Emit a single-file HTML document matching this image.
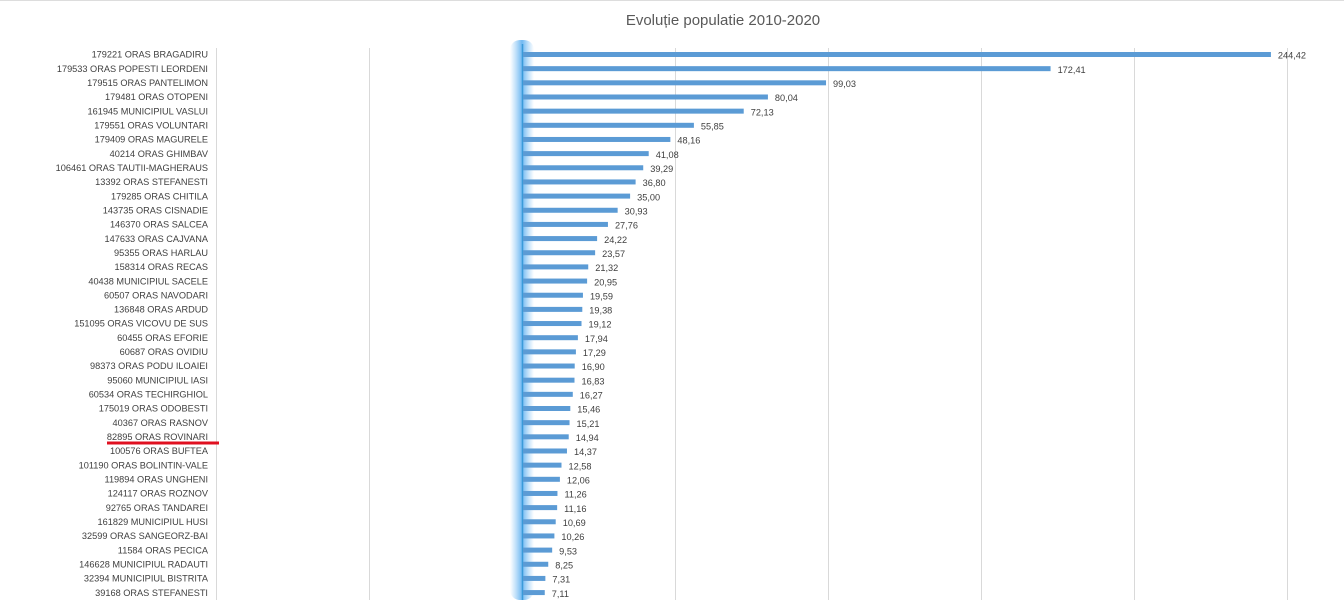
<!DOCTYPE html><html><head><meta charset="utf-8"><style>body{margin:0;background:#fff}svg{display:block}text{font-family:"Liberation Sans",sans-serif}</style></head><body>
<svg width="1344" height="600" xmlns="http://www.w3.org/2000/svg">
<defs><linearGradient id="g" x1="0" x2="1"><stop offset="0" stop-color="#7cc0f5" stop-opacity="0"/><stop offset="0.5" stop-color="#5fb0f0" stop-opacity="0.9"/><stop offset="1" stop-color="#7cc0f5" stop-opacity="0"/></linearGradient></defs>
<line x1="0" y1="0.5" x2="1344" y2="0.5" stroke="#ddd"/>
<text x="723" y="25" text-anchor="middle" font-size="15" fill="#595959">Evoluție populatie 2010-2020</text>
<g stroke="#d9d9d9" stroke-width="1">
<line x1="216.5" y1="48" x2="216.5" y2="600"/><line x1="369.5" y1="48" x2="369.5" y2="600"/><line x1="675.5" y1="48" x2="675.5" y2="600"/><line x1="828.5" y1="48" x2="828.5" y2="600"/><line x1="981.5" y1="48" x2="981.5" y2="600"/><line x1="1134.5" y1="48" x2="1134.5" y2="600"/><line x1="1287.5" y1="48" x2="1287.5" y2="600"/></g>
<rect x="510" y="40" width="24" height="560" rx="10" fill="url(#g)"/>
<line x1="522.5" y1="44" x2="522.5" y2="600" stroke="#3a9ad9" stroke-width="1.5"/>
<g id="rows" font-size="9.2" fill="#404040"></g>
<line x1="107" y1="443" x2="219" y2="443" stroke="#e01020" stroke-width="3"/>
</svg>
<script>
var d=[["179221 ORAS BRAGADIRU",244.42],["179533 ORAS POPESTI LEORDENI",172.41],["179515 ORAS PANTELIMON",99.03],["179481 ORAS OTOPENI",80.04],["161945 MUNICIPIUL VASLUI",72.13],["179551 ORAS VOLUNTARI",55.85],["179409 ORAS MAGURELE",48.16],["40214 ORAS GHIMBAV",41.08],["106461 ORAS TAUTII-MAGHERAUS",39.29],["13392 ORAS STEFANESTI",36.80],["179285 ORAS CHITILA",35.00],["143735 ORAS CISNADIE",30.93],["146370 ORAS SALCEA",27.76],["147633 ORAS CAJVANA",24.22],["95355 ORAS HARLAU",23.57],["158314 ORAS RECAS",21.32],["40438 MUNICIPIUL SACELE",20.95],["60507 ORAS NAVODARI",19.59],["136848 ORAS ARDUD",19.38],["151095 ORAS VICOVU DE SUS",19.12],["60455 ORAS EFORIE",17.94],["60687 ORAS OVIDIU",17.29],["98373 ORAS PODU ILOAIEI",16.90],["95060 MUNICIPIUL IASI",16.83],["60534 ORAS TECHIRGHIOL",16.27],["175019 ORAS ODOBESTI",15.46],["40367 ORAS RASNOV",15.21],["82895 ORAS ROVINARI",14.94],["100576 ORAS BUFTEA",14.37],["101190 ORAS BOLINTIN-VALE",12.58],["119894 ORAS UNGHENI",12.06],["124117 ORAS ROZNOV",11.26],["92765 ORAS TANDAREI",11.16],["161829 MUNICIPIUL HUSI",10.69],["32599 ORAS SANGEORZ-BAI",10.26],["11584 ORAS PECICA",9.53],["146628 MUNICIPIUL RADAUTI",8.25],["32394 MUNICIPIUL BISTRITA",7.31],["39168 ORAS STEFANESTI",7.11]];
var g=document.getElementById('rows'),s='';
d.forEach(function(r,i){var y=54.5+i*14.16,w=r[1]*3.06;
s+='<text x="208" y="'+(y+3.2)+'" text-anchor="end">'+r[0]+'</text>';
s+='<rect x="523" y="'+(y-2.5)+'" width="'+w+'" height="5" fill="#5b9bd5"/>';
s+='<text x="'+(523+w+7)+'" y="'+(y+4.2)+'">'+r[1].toFixed(2).replace('.',',')+'</text>';});
g.innerHTML=s;
</script>
</body></html>
